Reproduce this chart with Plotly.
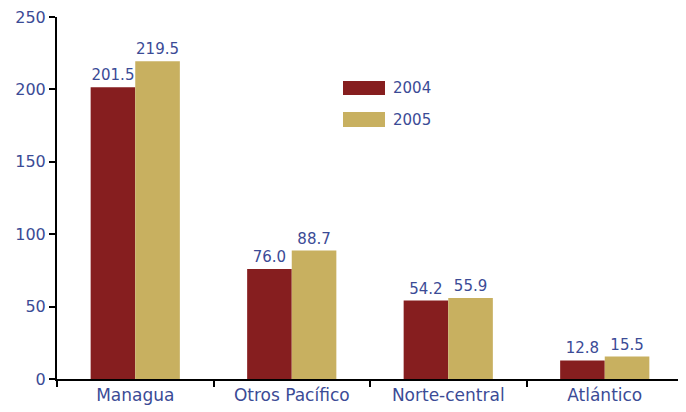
import plotly.graph_objects as go

categories = ["Managua", "Otros Pacífico", "Norte-central", "Atlántico"]
values_2004 = [201.5, 76.0, 54.2, 12.8]
values_2005 = [219.5, 88.7, 55.9, 15.5]
series_names = ["2004", "2005"]
colors = ["#861E1F", "#C8B060"]
text_color = "#3B4B96"
font_family = "'DejaVu Sans', sans-serif"

# page has an 8px body margin; figure sized to fit the window
FIG_W, FIG_H = 678, 404
ML, MR, MT, MB = 49, 3, 9, 33
W, H = FIG_W - ML - MR, FIG_H - MT - MB

fig = go.Figure()
for name, vals, col in zip(series_names, [values_2004, values_2005], colors):
    fig.add_trace(go.Bar(
        x=categories, y=vals, name=name, marker_color=col, marker_line_width=0,
        texttemplate="%{y:.1f}", textposition="outside",
        textfont=dict(color=text_color, size=15, family=font_family),
        cliponaxis=False, showlegend=False,
    ))

# manual legend with wide swatches (page pixel coords -> paper)
def px_x(p): return (p - 8 - ML) / W
def px_y(p): return (FIG_H - MB - (p - 8)) / H
legend_rows = [(81, 95), (112, 127)]
for (y0, y1), name, col in zip(legend_rows, series_names, colors):
    fig.add_shape(type="rect", xref="paper", yref="paper",
                  x0=px_x(343), x1=px_x(385), y0=px_y(y1), y1=px_y(y0),
                  fillcolor=col, line_width=0)
    fig.add_annotation(xref="paper", yref="paper", x=px_x(391), y=px_y((y0 + y1) / 2),
                       text=name, showarrow=False, xanchor="left", yanchor="middle",
                       font=dict(color=text_color, size=15, family=font_family))

fig.update_layout(
    width=FIG_W, height=FIG_H,
    margin=dict(l=ML, r=MR, t=MT, b=MB),
    paper_bgcolor="white", plot_bgcolor="white",
    barmode="group", bargap=0.43, bargroupgap=0,
    font=dict(family=font_family, color=text_color, size=16),
    xaxis=dict(showline=True, linecolor="black", linewidth=2, ticks="outside",
               tickson="boundaries", ticklen=6, tickcolor="black", tickwidth=2,
               tickfont=dict(size=17, color=text_color), showgrid=False, automargin=False,
               ticklabeloverflow="allow"),
    yaxis=dict(range=[0, 250], dtick=50, showline=True, linecolor="black", linewidth=2,
               ticks="outside", ticklen=6, tickcolor="black", tickwidth=2,
               tickfont=dict(size=16, color=text_color), showgrid=False, zeroline=False,
               automargin=False, ticklabeloverflow="allow"),
)

fig.write_html("out.html")
